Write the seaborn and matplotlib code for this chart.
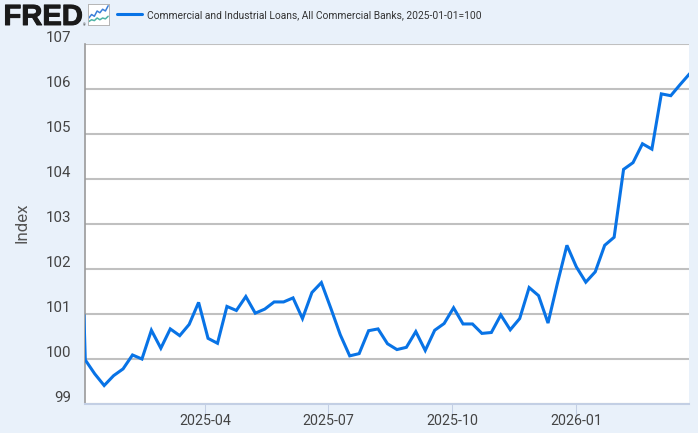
#!/usr/bin/env python3
# FRED weekly C&I loans index, redrawn with seaborn
import pandas as pd
import matplotlib.pyplot as plt
import matplotlib.dates as mdates
import matplotlib.patheffects as pe
import seaborn as sns
from matplotlib.transforms import ScaledTranslation

W, H = 698, 433
BG = "#e9f1fa"
BLUE = "#0873e6"
SERIES = "Commercial and Industrial Loans, All Commercial Banks, 2025-01-01=100"

# first value belongs to the point just left of the axis, only its tail shows
first_date = ["2025-01-01"]
first_value = [100.97]
week_start = "2025-01-02"
values = [
    99.97, 99.66, 99.40, 99.62, 99.77, 100.08, 99.99, 100.63, 100.23, 100.66,
    100.51, 100.76, 101.25, 100.45, 100.34, 101.16, 101.07, 101.38, 101.01, 101.10,
    101.26, 101.26, 101.35, 100.89, 101.47, 101.69, 101.12, 100.53, 100.06, 100.11,
    100.62, 100.66, 100.33, 100.20, 100.25, 100.60, 100.18, 100.63, 100.78, 101.13,
    100.77, 100.77, 100.56, 100.58, 100.97, 100.64, 100.89, 101.58, 101.40, 100.79,
    101.68, 102.52, 102.04, 101.70, 101.93, 102.52, 102.70, 104.21, 104.36, 104.78,
    104.66, 105.89, 105.85, 106.10, 106.34,
]
x_ticks = ["2025-04-01", "2025-07-01", "2025-10-01", "2026-01-01"]
x_labels = ["2025-04", "2025-07", "2025-10", "2026-01"]
y_ticks = [99, 100, 101, 102, 103, 104, 105, 106, 107]

# little chart icon next to the logo
icon_x = [0, 1, 2, 3, 4, 5, 6, 7]
icon_blue = [3, 5, 4, 7, 6, 8, 7, 10]
icon_green = [1, 2, 1.5, 3, 2, 3, 2.5, 4]


def main():
    sns.set_style("white")
    plt.rcParams["font.family"] = ["Roboto", "DejaVu Sans"]

    df = pd.DataFrame({
        "date": pd.to_datetime(first_date).append(
            pd.date_range(week_start, periods=len(values), freq="7D")),
        "index": first_value + values,
    })

    fig = plt.figure(figsize=(W / 100, H / 100), dpi=100, facecolor=BG)
    left, right, top, bottom = 85, 689, 44, 403.5
    ax = fig.add_axes([left / W, 1 - bottom / H, (right - left) / W, (bottom - top) / H])
    ax.set_facecolor("white")

    sns.lineplot(data=df, x="date", y="index", color=BLUE, linewidth=2.2,
                 ax=ax, label=SERIES, solid_joinstyle="miter", zorder=3)

    ax.set_ylim(99, 107)
    ax.set_xlim(pd.Timestamp("2025-01-01 19:00"), pd.Timestamp("2026-03-25 12:00"))
    ax.set_yticks(y_ticks)
    ax.set_xticks(mdates.date2num(pd.to_datetime(x_ticks)))
    ax.set_xticklabels(x_labels)

    ax.grid(axis="y", color="#c0c0c0", linewidth=1.5, zorder=1)
    ax.grid(axis="x", visible=False)
    for side in ["top", "right"]:
        ax.spines[side].set_visible(False)
    ax.spines["left"].set_color("#9a9a9a")
    ax.spines["left"].set_linewidth(1.2)
    ax.spines["bottom"].set_color("#c3cfe4")
    ax.spines["bottom"].set_linewidth(1.5)

    ax.tick_params(axis="x", length=8, width=0.75, color="#c3cfe4", pad=-0.6,
                   labelsize=10.3, labelcolor="#444444", bottom=True)
    ax.tick_params(axis="y", length=0, pad=9.7, labelsize=10.8, labelcolor="#444444")
    # FRED puts the y labels just above their grid lines
    shift = ScaledTranslation(0, 7 / 100, fig.dpi_scale_trans)
    for lab in ax.get_yticklabels():
        lab.set_transform(lab.get_transform() + shift)

    ax.set_xlabel("")
    ax.set_ylabel("Index", fontsize=12.2, color="#555555")
    ax.yaxis.set_label_coords(29 / W, 1 - 223 / H, transform=fig.transFigure)

    ax.legend(loc="center left", bbox_to_anchor=(117 / W, 1 - 15 / H),
              bbox_transform=fig.transFigure, frameon=False, fontsize=7.4,
              handlelength=2.44, handletextpad=0.47, borderpad=0, borderaxespad=0,
              labelcolor="#333333")

    # logo
    fig.text(3.5 / W, 1 - 25 / H, "FRED", family="Liberation Sans", weight="bold",
             fontsize=21, color="#1a1a1a", va="baseline", ha="left",
             path_effects=[pe.withStroke(linewidth=0.7, foreground="#1a1a1a")])
    fig.text(82.5 / W, 1 - 26 / H, "®", fontsize=2.5, color="#1a1a1a")

    icon = fig.add_axes([88 / W, 1 - 25 / H, 21 / W, 21 / H], facecolor="white")
    sns.lineplot(x=icon_x, y=icon_blue, color="#3b7fd9", linewidth=1.1, ax=icon)
    sns.lineplot(x=icon_x, y=icon_green, color="#4db3a6", linewidth=1.1, ax=icon)
    icon.set_xlim(-0.3, 7.3)
    icon.set_ylim(-1, 11)
    icon.set_xticks([])
    icon.set_yticks([])
    for s in icon.spines.values():
        s.set_color("#b5b5b5")
        s.set_linewidth(0.7)

    fig.savefig("out.png", dpi=100, facecolor=BG)
    plt.close(fig)


if __name__ == "__main__":
    main()
